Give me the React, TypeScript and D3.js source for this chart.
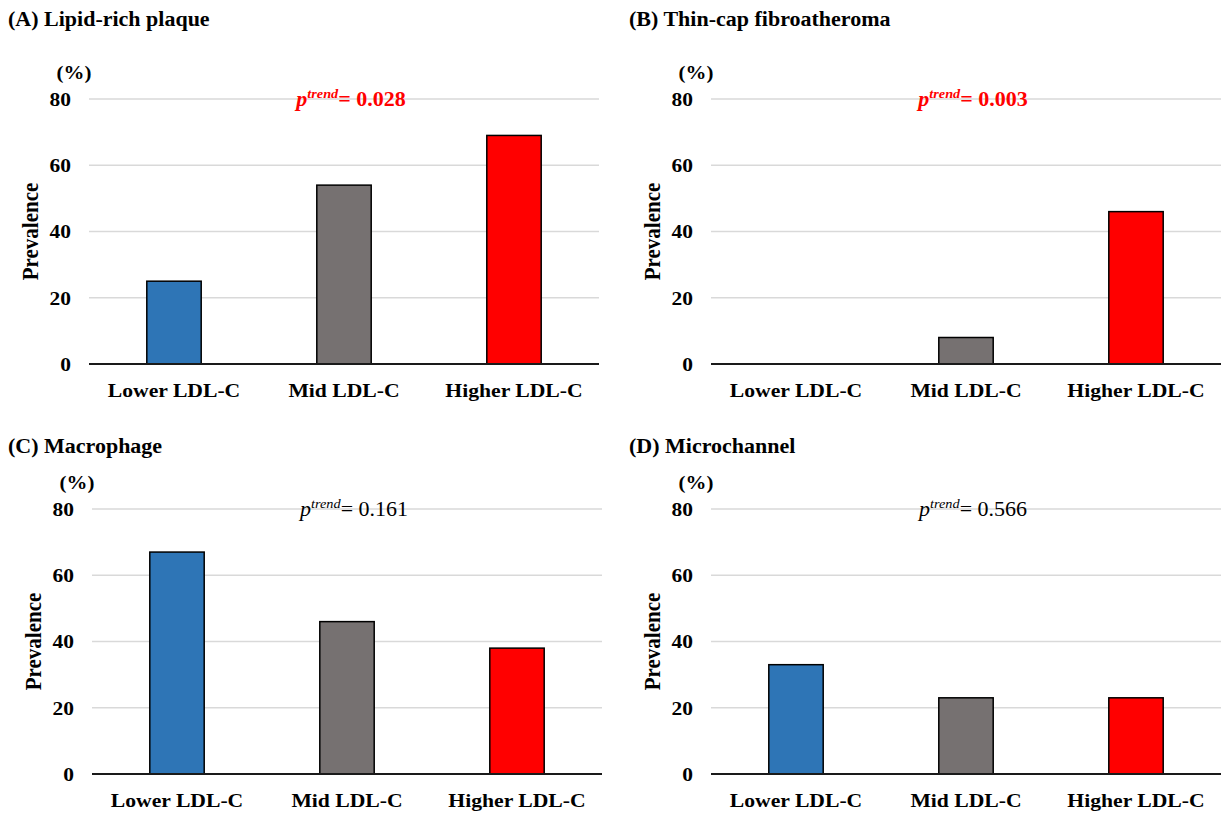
import React, { useEffect, useRef } from 'react';
import * as d3 from 'd3';

const categories = ['Lower LDL-C', 'Mid LDL-C', 'Higher LDL-C'];
const barColors = ['#2E75B6', '#767171', '#FF0000'];
const yTicks = [0, 20, 40, 60, 80];

const panelTitles = ['(A) Lipid-rich plaque', '(B) Thin-cap fibroatheroma', '(C) Macrophage', '(D) Microchannel'];
const lipidRich = [25, 54, 69];
const thinCap = [0, 8, 46];
const macrophage = [67, 46, 38];
const microchannel = [33, 23, 23];
const pTrend = ['0.028', '0.003', '0.161', '0.566'];
const pSignificant = [true, true, false, false];

const FONT = 'Liberation Serif, Times New Roman, DejaVu Serif, serif';
const SX = 1.1; // the original figure's text is a bit wider than plain Times

// where each panel sits on the page
const layout = [
  { tx: 8, ty: 26, x0: 89, x1: 599, top: 99, bottom: 364 },
  { tx: 629, ty: 26, x0: 711, x1: 1221, top: 99, bottom: 364 },
  { tx: 8, ty: 453, x0: 92, x1: 602, top: 509, bottom: 774 },
  { tx: 629, ty: 453, x0: 711, x1: 1221, top: 509, bottom: 774 },
];

const at = (x: number, y: number, extra = '') => `translate(${x},${y}) scale(${SX},1)${extra}`;

function App() {
  const svgRef = useRef<SVGSVGElement>(null);

  useEffect(() => {
    const svg = d3.select(svgRef.current);
    svg.selectAll('*').remove();
    svg.attr('width', 1225).attr('height', 813)
      .attr('font-family', FONT)
      .style('background', '#fff');

    const series = [lipidRich, thinCap, macrophage, microchannel];

    series.forEach((values, i) => {
      const L = layout[i];
      const g = svg.append('g');

      const x = d3.scaleBand().domain(categories).range([L.x0, L.x1])
        .paddingInner(0.68).paddingOuter(0.34);
      const y = d3.scaleLinear().domain([0, 80]).range([L.bottom, L.top]);

      // title
      g.append('text')
        .attr('transform', at(L.tx, L.ty))
        .attr('font-size', 20).attr('font-weight', 'bold')
        .text(panelTitles[i]);

      // grid
      g.selectAll('.grid')
        .data(yTicks.filter(t => t > 0))
        .enter().append('line')
        .attr('x1', L.x0).attr('x2', L.x1)
        .attr('y1', d => y(d)).attr('y2', d => y(d))
        .attr('stroke', '#d9d9d9').attr('stroke-width', 1.5);

      // tick labels
      g.selectAll('.tick')
        .data(yTicks)
        .enter().append('text')
        .attr('transform', d => at(L.x0 - 18, y(d)))
        .attr('dy', '0.35em')
        .attr('text-anchor', 'end')
        .attr('font-size', 19.5).attr('font-weight', 'bold')
        .text(d => d);

      g.append('text')
        .attr('transform', at(L.x0 - 15, L.top - 20.5))
        .attr('text-anchor', 'middle')
        .attr('font-size', 19).attr('font-weight', 'bold')
        .text('(%)');

      g.append('text')
        .attr('transform', at(L.x0 - 51, (L.top + L.bottom) / 2, ' rotate(-90)'))
        .attr('text-anchor', 'middle')
        .attr('font-size', 21).attr('font-weight', 'bold')
        .text('Prevalence');

      // bars
      g.selectAll('.bar')
        .data(values)
        .enter().append('rect')
        .attr('x', (d, j) => x(categories[j]) as number)
        .attr('y', d => y(d))
        .attr('width', x.bandwidth())
        .attr('height', d => y(0) - y(d))
        .attr('fill', (d, j) => barColors[j])
        .attr('stroke', '#000')
        .attr('stroke-width', 1.5)
        .attr('display', d => (d > 0 ? null : 'none'));

      // baseline
      g.append('line')
        .attr('x1', L.x0).attr('x2', L.x1)
        .attr('y1', y(0)).attr('y2', y(0))
        .attr('stroke', '#1a1a1a').attr('stroke-width', 1.8);

      // category labels
      g.selectAll('.cat')
        .data(categories)
        .enter().append('text')
        .attr('transform', d => at((x(d) as number) + x.bandwidth() / 2, L.bottom + 33))
        .attr('text-anchor', 'middle')
        .attr('font-size', 19.7).attr('font-weight', 'bold')
        .text(d => d);

      // p for trend
      const sig = pSignificant[i];
      const pt = g.append('text')
        .attr('transform', at(L.x0 + 262, L.top + 7))
        .attr('text-anchor', 'middle')
        .attr('font-size', 20)
        .attr('font-weight', sig ? 'bold' : 'normal')
        .attr('fill', sig ? '#FF0000' : '#000');
      pt.append('tspan').attr('font-style', 'italic').text('p');
      pt.append('tspan').attr('font-style', 'italic').attr('font-size', 13).attr('dy', -8).text('trend');
      pt.append('tspan').attr('dy', 8).text(`= ${pTrend[i]}`);
    });
  }, []);

  return <svg ref={svgRef} style={{ position: 'absolute', left: 0, top: 0 }}></svg>;
}

export default App;
